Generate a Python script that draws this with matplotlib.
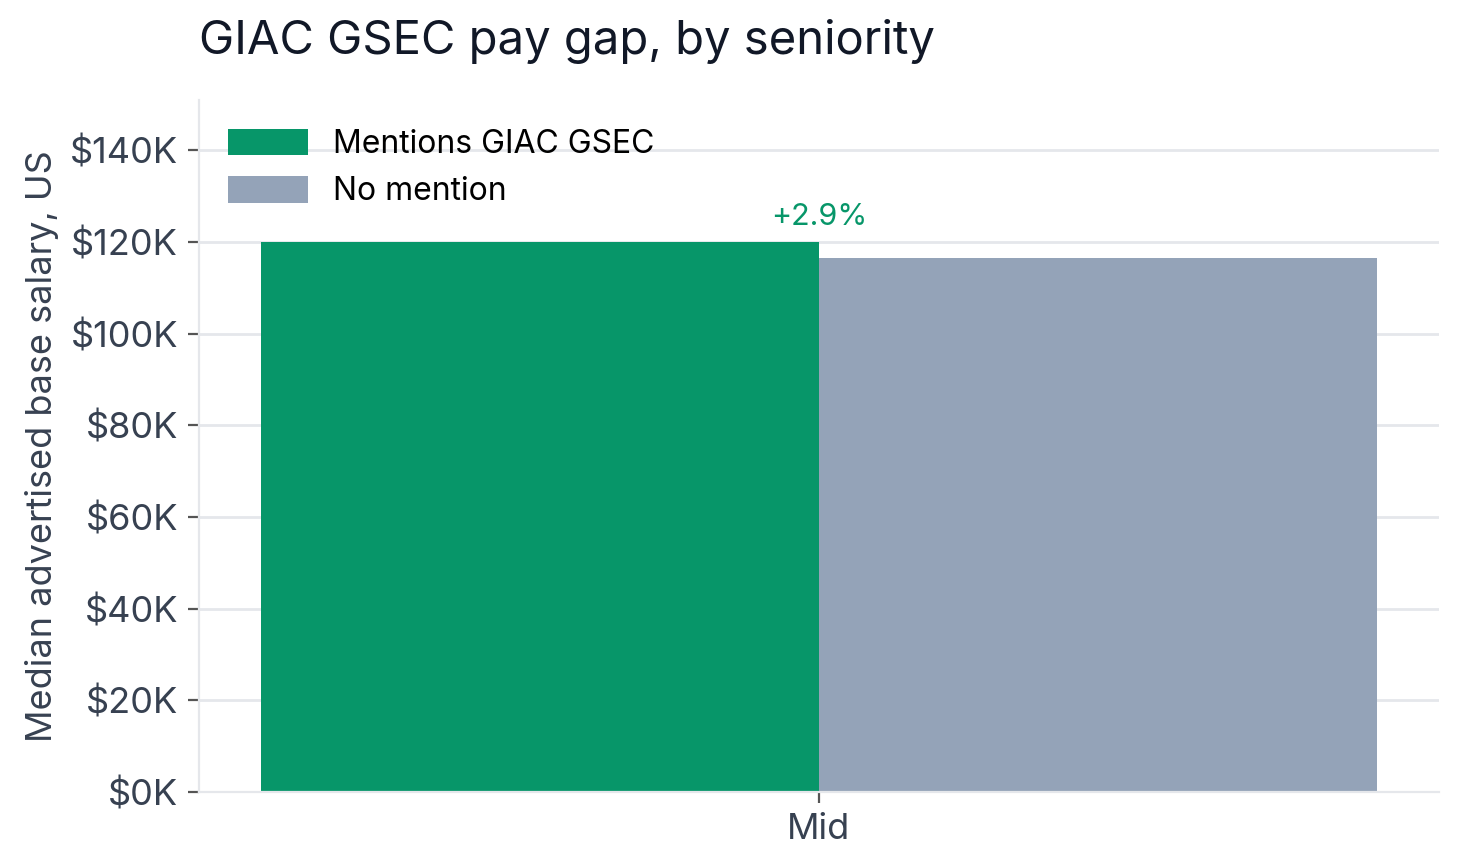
import matplotlib
matplotlib.use("Agg")
import matplotlib.pyplot as plt
import numpy as np

plt.rcParams['font.family'] = ['Inter', 'DejaVu Sans']

categories = ["Mid"]
mentions = [120000]
no_mention = [116600]
gap_labels = ["+2.9%"]

fig = plt.figure(figsize=(7.295, 4.34), dpi=200)
ax = fig.add_axes([199/1459, 1-792/868, (1439-199)/1459, (792-100)/868])

x = np.arange(len(categories))
w = 0.45
ax.bar(x - w/2, mentions, w, color="#079669", label="Mentions GIAC GSEC", zorder=2)
ax.bar(x + w/2, no_mention, w, color="#94a3b8", label="No mention", zorder=2)
for i, g in enumerate(gap_labels):
    ax.text(x[i], mentions[i] + 2500, g, ha="center", va="bottom", color="#079669", fontsize=11)

ax.set_xlim(-0.5, 0.5)
ax.set_ylim(0, 151000)
ax.set_yticks(np.arange(0, 140001, 20000))
ax.set_yticklabels([f"${v//1000}K" for v in range(0, 140001, 20000)])
ax.set_xticks(x)
ax.set_xticklabels(categories)
ax.tick_params(axis="both", labelsize=13, colors="#374151", length=4)
ax.tick_params(axis="both", color="#555555")
ax.grid(axis="y", color="#e5e7eb", linewidth=1, zorder=0)
for s in ["top", "right"]:
    ax.spines[s].set_visible(False)
for s in ["left", "bottom"]:
    ax.spines[s].set_color("#e5e7eb")
ax.set_ylabel("Median advertised base salary, US", fontsize=13, color="#374151")
ax.legend(loc="upper left", frameon=False, fontsize=11.5, handlelength=2.5, handleheight=0.9)
fig.text(199/1459, 1-42/868, "GIAC GSEC pay gap, by seniority", fontsize=17, color="#111827", va="center")
fig.savefig("out.png", dpi=200)
